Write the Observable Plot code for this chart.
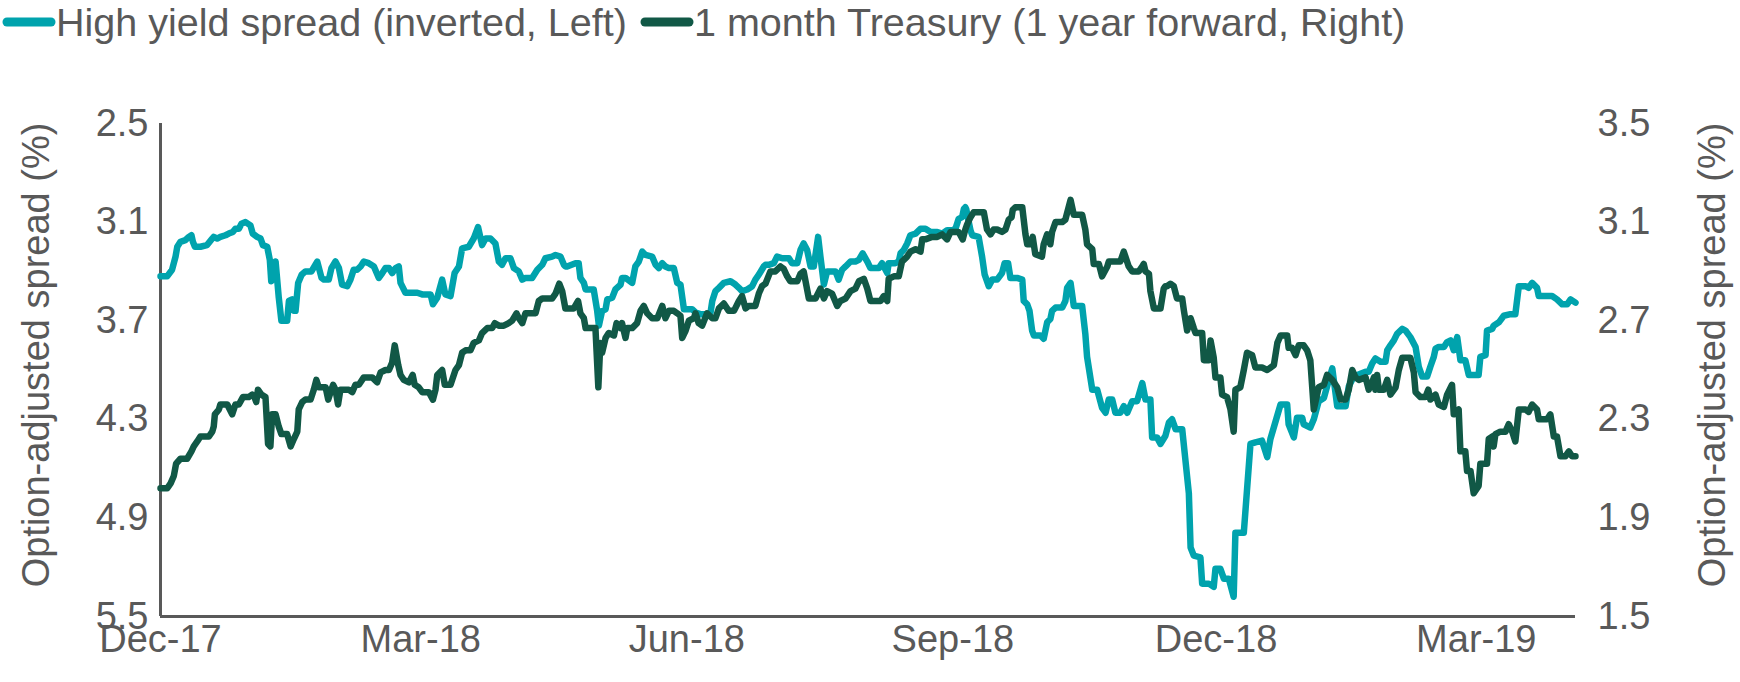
<!DOCTYPE html>
<html><head><meta charset="utf-8">
<script src="https://cdn.jsdelivr.net/npm/d3@7"></script>
<script src="https://cdn.jsdelivr.net/npm/@observablehq/plot@0.6"></script>
<style>
body{margin:0;background:#fff;font-family:"Liberation Sans",Arial,sans-serif;color:#595959}
#legend{height:44px;position:relative;font-size:39.5px;width:1740px}
.item{position:absolute;top:0;height:44px;display:flex;align-items:center;white-space:nowrap}
#chart svg{display:block}
</style></head><body>
<div id="legend"></div>
<div id="chart"></div>
<script>
// ---- data (days since 1 Dec 2017) ----
const seriesNames = ["High yield spread (inverted, Left)", "1 month Treasury (1 year forward, Right)"];
const seriesColors = ["#00A3AD", "#115846"];
const leftTitle = "Option-adjusted spread (%)";
const rightTitle = "Option-adjusted spread (%)";
const leftTicks = [2.5, 3.1, 3.7, 4.3, 4.9, 5.5];
const rightTicks = [3.5, 3.1, 2.7, 2.3, 1.9, 1.5];
const xTicks = ["2017-12-01", "2018-03-01", "2018-06-01", "2018-09-01", "2018-12-01", "2019-03-01"];

const hyDays = [0,2.3,4.0,5.2,5.8,6.9,8.6,9.8,10.7,11.2,11.9,13.8,16.1,17.9,18.4,19.6,20.7,22.5,23.6,25.0,25.9,27.1,28.0,29.4,31.1,31.9,33.4,34.6,35.4,36.9,37.8,38.3,39.2,39.8,40.9,41.8,43.8,44.4,45.5,46.1,46.7,47.6,48.8,50.1,52.2,54.2,55.7,56.5,58.2,59.1,60.5,61.7,62.8,64.6,65.7,66.8,68.0,69.2,70.3,
72.0,73.8,75.5,76.7,77.8,79.0,80.1,81.3,82.4,83.0,84.7,88.8,90.5,93.4,94.2,95.7,97.4,98.5,100.3,101.7,103.2,104.3,106.6,108.3,109.8,111.2,112.4,114.1,115.8,117.0,118.1,119.3,121.0,122.2,123.9,125.1,126.2,128.5,130.3,132.0,133.1,135.4,136.6,138.3,139.5,140.0,
140.6,143.5,144.6,145.2,146.4,147.0,149.8,151.0,151.6,152.7,153.9,154.5,156.2,157.3,159.1,159.6,160.8,163.1,164.2,165.4,166.6,167.7,170.0,171.2,172.3,173.5,174.6,175.8,177.5,178.7,179.8,181.0,183.8,185.0,186.7,189.0,190.2,190.8,191.9,193.1,194.8,197.1,198.8,200.0,201.1,202.9,204.6,205.7,206.9,208.6,209.2,
210.3,212.1,213.2,215.0,217.3,218.4,220.2,221.3,222.4,223.6,224.8,225.9,227.4,228.2,229.4,230.5,233.4,234.5,235.7,236.9,238.6,240.3,241.5,242.8,244.4,245.5,248.4,249.5,251.3,251.8,254.1,255.3,255.9,257.0,258.2,259.3,261.1,262.8,264.5,266.3,268.6,270.3,272.0,273.8,274.9,276.0,277.2,277.8,278.3,
278.6,279.5,280.1,280.7,282.9,284.1,285.0,286.4,287.6,289.3,291.0,291.9,293.1,293.9,296.2,298.0,298.5,299.7,300.5,301.4,302.0,304.3,305.4,306.6,307.7,308.3,309.5,311.8,312.9,313.5,314.7,315.8,318.7,319.8,320.4,322.2,323.9,325.6,326.8,327.9,329.1,330.2,331.9,333.1,334.3,336.0,337.7,339.5,340.6,342.3,342.9,344.6,345.8,347.5,
348.7,349.8,351.0,353.3,355.6,356.2,357.3,359.6,360.2,362.5,364.2,364.8,366.5,367.7,369.4,371.1,371.7,374.6,376.9,378.6,380.9,382.7,383.8,387.3,389.6,390.1,391.9,393.0,394.8,395.3,397.6,398.8,400.5,402.3,403.4,405.2,406.9,409.8,410.9,412.6,416.7,
417.8,419.0,420.1,421.9,423.6,424.2,425.3,426.5,427.6,429.4,430.5,432.2,434.0,435.1,436.3,438.0,439.1,440.3,440.9,442.0,443.8,444.9,446.1,447.2,448.4,449.5,451.2,452.4,455.8,456.4,458.2,458.7,460.5,461.0,462.8,464.5,466.8,468.5,469.7,472.0,473.1,474.3,476.0,476.6,481.2,482.9,484.7,486.4,487.6,489.3];
const hySpread = [3.43,3.43,3.39,3.31,3.25,3.22,3.21,3.19,3.18,3.22,3.25,3.25,3.24,3.20,3.19,3.20,3.19,3.18,3.17,3.16,3.14,3.14,3.11,3.10,3.12,3.17,3.19,3.20,3.24,3.25,3.33,3.46,3.41,3.34,3.56,3.70,3.70,3.58,3.57,3.64,3.64,3.47,3.42,3.40,3.40,3.34,3.44,3.45,3.45,3.38,3.34,3.38,3.48,3.49,3.45,3.39,3.39,3.37,3.34,
3.35,3.37,3.44,3.41,3.38,3.38,3.41,3.38,3.37,3.47,3.53,3.53,3.54,3.54,3.60,3.56,3.45,3.54,3.55,3.41,3.37,3.26,3.25,3.20,3.13,3.24,3.20,3.20,3.23,3.34,3.36,3.32,3.32,3.38,3.40,3.45,3.44,3.44,3.39,3.36,3.32,3.31,3.30,3.31,3.36,3.37,
3.37,3.35,3.35,3.44,3.47,3.51,3.51,3.64,3.73,3.64,3.63,3.57,3.56,3.51,3.48,3.44,3.44,3.47,3.37,3.34,3.28,3.30,3.31,3.36,3.38,3.35,3.37,3.38,3.38,3.47,3.48,3.63,3.63,3.65,3.66,3.66,3.65,3.58,3.52,3.50,3.47,3.46,3.48,3.50,3.52,3.51,3.49,3.45,3.42,3.37,3.36,
3.36,3.35,3.31,3.32,3.32,3.35,3.35,3.27,3.23,3.27,3.37,3.37,3.19,3.31,3.48,3.40,3.40,3.45,3.39,3.37,3.34,3.34,3.33,3.29,3.34,3.38,3.38,3.35,3.41,3.35,3.35,3.34,3.29,3.27,3.23,3.18,3.17,3.14,3.14,3.16,3.16,3.17,3.15,3.15,3.14,3.08,3.07,3.02,3.01,
3.02,3.10,3.15,3.18,3.19,3.31,3.42,3.49,3.45,3.45,3.41,3.35,3.35,3.44,3.44,3.45,3.58,3.60,3.64,3.76,3.79,3.79,3.81,3.71,3.69,3.64,3.62,3.62,3.58,3.50,3.47,3.61,3.61,3.78,3.92,4.12,4.12,4.23,4.26,4.18,4.18,4.26,4.26,4.22,4.26,4.19,4.19,4.08,4.18,4.18,4.41,4.41,4.45,4.40,
4.32,4.30,4.36,4.36,4.75,5.08,5.13,5.14,5.30,5.30,5.32,5.21,5.21,5.27,5.27,5.38,4.99,4.99,4.45,4.44,4.43,4.53,4.42,4.21,4.21,4.33,4.41,4.29,4.29,4.33,4.35,4.30,4.19,4.17,4.10,3.99,4.22,4.22,4.10,4.04,4.01,
4.01,3.96,3.93,3.95,3.95,3.88,3.85,3.82,3.78,3.75,3.76,3.80,3.86,3.98,4.04,4.04,3.98,3.92,3.87,3.86,3.86,3.83,3.82,3.88,3.80,3.94,3.94,4.03,4.03,3.92,3.91,3.76,3.75,3.73,3.71,3.67,3.66,3.66,3.49,3.49,3.50,3.47,3.50,3.55,3.55,3.57,3.60,3.60,3.57,3.59];

const tsyDays = [0,2.3,3.5,4.6,5.4,6.9,9.2,10.7,11.5,12.7,13.8,16.7,17.9,18.4,18.8,20.2,20.7,23.1,24.8,25.9,27.1,28.5,30.5,31.7,32.5,33.1,33.7,34.9,36.3,37.2,38.0,38.6,39.8,40.9,41.8,43.8,45.0,46.1,47.3,47.8,49.0,50.1,51.9,53.0,53.9,54.7,57.1,58.0,58.8,59.7,60.5,61.4,62.2,63.4,65.1,66.3,67.4,68.6,70.3,
73.2,74.9,76.1,77.8,79.0,80.1,81.0,82.2,83.0,84.1,85.9,87.2,87.9,89.3,90.5,92.8,94.2,95.1,95.7,97.4,98.3,100.3,102.0,103.2,104.3,105.5,107.2,108.3,110.1,111.2,113.0,114.7,115.6,117.0,118.7,120.4,121.6,123.1,123.9,125.1,126.2,129.7,130.8,132.0,133.7,135.4,136.6,137.9,138.9,140.0,
140.6,142.9,144.4,145.2,146.4,147.0,149.3,150.4,151.4,152.1,152.7,153.9,155.0,156.8,157.7,159.1,159.6,160.8,161.4,163.1,164.8,166.0,167.1,168.3,170.0,171.8,173.5,174.6,175.8,177.5,178.7,179.8,180.4,181.6,182.7,184.4,185.0,186.1,187.3,189.0,190.8,191.9,193.1,194.8,196.5,198.3,200.0,201.1,202.3,203.4,205.7,206.9,208.0,209.2,
210.9,212.6,214.4,215.5,216.7,217.8,220.2,221.3,222.4,224.2,226.5,228.2,229.4,230.5,232.2,234.0,235.1,236.9,238.6,240.3,241.5,243.2,244.4,245.5,249.0,250.1,251.3,251.8,253.6,255.3,256.4,258.2,259.3,261.1,262.8,263.4,264.5,266.8,268.6,270.3,272.0,273.2,274.9,276.0,277.4,278.3,
278.9,280.1,281.2,284.7,285.8,287.0,288.1,289.3,291.0,292.2,293.3,294.3,294.7,295.6,298.0,299.1,299.7,300.8,301.6,302.5,304.8,305.4,306.6,307.7,308.3,309.5,311.8,312.9,314.7,315.8,318.7,319.8,320.4,322.2,322.7,324.5,325.6,327.4,327.9,331.9,333.1,334.8,336.0,338.3,339.5,340.0,340.6,341.8,342.3,343.5,345.8,346.9,347.5,
348.1,349.2,350.4,351.5,353.3,353.9,355.0,356.2,357.3,357.9,360.2,360.8,362.5,363.1,364.2,364.8,366.5,367.1,368.8,370.0,371.1,371.7,373.4,374.6,375.7,377.5,378.6,380.9,382.7,385.0,386.2,387.3,389.6,390.1,391.3,392.5,393.6,395.3,396.5,397.6,398.8,400.5,402.3,403.4,405.2,406.9,408.1,409.8,410.9,412.1,413.2,414.4,416.7,
417.8,419.0,419.6,420.1,420.7,421.3,423.0,424.2,425.3,427.1,428.2,429.4,431.1,432.2,433.4,434.0,435.7,437.4,438.4,439.1,440.9,442.0,443.8,444.9,446.6,447.2,448.9,449.5,451.2,451.8,453.0,454.1,455.8,456.4,458.7,459.3,460.5,461.0,461.6,463.3,465.1,466.2,467.4,468.5,469.7,472.0,473.1,474.3,476.0,476.6,479.5,480.6,481.8,482.9,484.1,485.8,487.0,488.1,489.3];
const tsyRate = [2.02,2.02,2.04,2.07,2.12,2.14,2.14,2.17,2.19,2.21,2.23,2.23,2.25,2.27,2.32,2.34,2.36,2.36,2.32,2.36,2.36,2.39,2.39,2.40,2.39,2.37,2.42,2.40,2.39,2.20,2.19,2.32,2.32,2.27,2.24,2.24,2.19,2.22,2.25,2.34,2.37,2.38,2.38,2.42,2.46,2.43,2.43,2.38,2.41,2.44,2.42,2.36,2.42,2.42,2.42,2.41,2.44,2.44,2.47,
2.47,2.45,2.49,2.50,2.50,2.53,2.60,2.52,2.48,2.46,2.45,2.48,2.44,2.43,2.41,2.41,2.38,2.42,2.48,2.50,2.44,2.44,2.50,2.52,2.57,2.58,2.58,2.61,2.62,2.65,2.67,2.67,2.69,2.68,2.68,2.69,2.70,2.73,2.71,2.69,2.73,2.73,2.78,2.79,2.79,2.79,2.81,2.85,2.82,2.75,
2.75,2.75,2.78,2.73,2.71,2.67,2.67,2.67,2.43,2.61,2.57,2.63,2.65,2.64,2.69,2.67,2.69,2.63,2.67,2.67,2.69,2.74,2.76,2.73,2.71,2.71,2.76,2.71,2.74,2.74,2.73,2.72,2.63,2.66,2.70,2.71,2.73,2.69,2.68,2.73,2.71,2.71,2.75,2.77,2.74,2.74,2.78,2.80,2.75,2.76,2.76,2.81,2.84,2.85,
2.90,2.90,2.92,2.91,2.88,2.86,2.86,2.89,2.90,2.79,2.79,2.83,2.79,2.82,2.81,2.76,2.78,2.79,2.82,2.83,2.86,2.87,2.83,2.78,2.78,2.80,2.78,2.87,2.88,2.88,2.94,2.96,2.98,2.99,2.98,3.03,3.03,3.04,3.04,3.05,3.03,3.06,3.06,3.06,3.03,3.07,
3.09,3.12,3.14,3.14,3.07,3.05,3.07,3.07,3.06,3.07,3.11,3.12,3.15,3.16,3.16,3.05,3.01,3.01,3.04,2.97,2.96,3.01,3.05,3.01,3.06,3.10,3.10,3.11,3.19,3.13,3.13,3.07,3.01,2.99,2.93,2.93,2.88,2.92,2.94,2.94,2.98,2.92,2.90,2.90,2.92,2.93,2.90,2.89,2.82,2.75,2.75,2.83,2.84,
2.84,2.85,2.84,2.79,2.79,2.74,2.66,2.71,2.67,2.65,2.65,2.54,2.54,2.62,2.55,2.47,2.47,2.40,2.39,2.34,2.25,2.42,2.43,2.50,2.57,2.56,2.51,2.51,2.50,2.52,2.61,2.64,2.64,2.59,2.59,2.56,2.60,2.60,2.58,2.54,2.34,2.43,2.44,2.48,2.46,2.43,2.38,2.38,2.42,2.50,2.47,2.46,2.47,
2.42,2.45,2.47,2.42,2.48,2.42,2.42,2.46,2.40,2.43,2.50,2.55,2.55,2.55,2.49,2.41,2.39,2.39,2.42,2.38,2.40,2.36,2.35,2.40,2.44,2.32,2.34,2.17,2.17,2.09,2.09,2.00,2.03,2.12,2.12,2.22,2.23,2.19,2.24,2.25,2.25,2.28,2.25,2.21,2.34,2.34,2.33,2.36,2.34,2.30,2.30,2.32,2.23,2.23,2.15,2.15,2.17,2.15,2.15];

// ---- helpers ----
const start = Date.UTC(2017, 11, 1);
const toDate = d => new Date(start + d * 864e5);
// map right-axis (Treasury) values into left-axis units: 3.5 -> 2.5, 1.5 -> 5.5
const toLeft = r => 2.5 + (3.5 - r) * 1.5;
const fromLeft = l => 3.5 - (l - 2.5) / 1.5;

const hyData = hyDays.map((d, i) => ({date: toDate(d), v: hySpread[i]}));
const tsyData = tsyDays.map((d, i) => ({date: toDate(d), v: toLeft(tsyRate[i])}));

// ---- legend ----
const legend = document.getElementById("legend");
const legendLeft = [2, 640];
seriesNames.forEach((name, i) => {
  const it = document.createElement("div");
  it.className = "item";
  it.style.left = legendLeft[i] + "px";
  it.innerHTML = `<svg width="54" height="14"><line x1="5" y1="7" x2="49" y2="7" stroke="${seriesColors[i]}" stroke-width="9" stroke-linecap="round"/></svg><span>${name}</span>`;
  legend.appendChild(it);
});

const FS = 38;
const chart = Plot.plot({
  width: 1740, height: 638,
  marginLeft: 160, marginRight: 165, marginTop: 79, marginBottom: 66,
  style: {fontFamily: "Liberation Sans, Arial, sans-serif", fontSize: FS + "px", color: "#595959", background: "#fff", overflow: "visible"},
  x: {type: "utc", domain: [toDate(0), toDate(489.3)]},
  y: {domain: [5.5, 2.5]},
  marks: [
    Plot.axisY({anchor: "left", ticks: leftTicks, tickFormat: d => d.toFixed(1), tickSize: 0, tickPadding: 12, label: null, fontSize: FS}),
    Plot.axisY({anchor: "right", ticks: rightTicks.map(toLeft), tickFormat: d => fromLeft(d).toFixed(1), tickSize: 0, tickPadding: 22, label: null, fontSize: FS}),
    Plot.axisX({ticks: xTicks.map(s => new Date(s + "T00:00:00Z")), tickFormat: d3.utcFormat("%b-%y"), tickSize: 0, tickPadding: 9, label: null, fontSize: FS}),
    Plot.text([leftTitle], {text: d => d, frameAnchor: "left", textAnchor: "middle", lineAnchor: "middle", rotate: -90, dx: -124, dy: -15, fontSize: FS, fill: "#595959"}),
    Plot.text([rightTitle], {text: d => d, frameAnchor: "right", textAnchor: "middle", lineAnchor: "middle", rotate: -90, dx: 137, dy: -15, fontSize: FS, fill: "#595959"}),
    Plot.ruleY([5.5], {stroke: "#595959", strokeWidth: 3}),
    Plot.ruleX([toDate(0)], {stroke: "#595959", strokeWidth: 3}),
    Plot.line(hyData, {x: "date", y: "v", stroke: seriesColors[0], strokeWidth: 6.5}),
    Plot.line(tsyData, {x: "date", y: "v", stroke: seriesColors[1], strokeWidth: 6.5})
  ]
});
document.getElementById("chart").appendChild(chart);
</script>
</body></html>
